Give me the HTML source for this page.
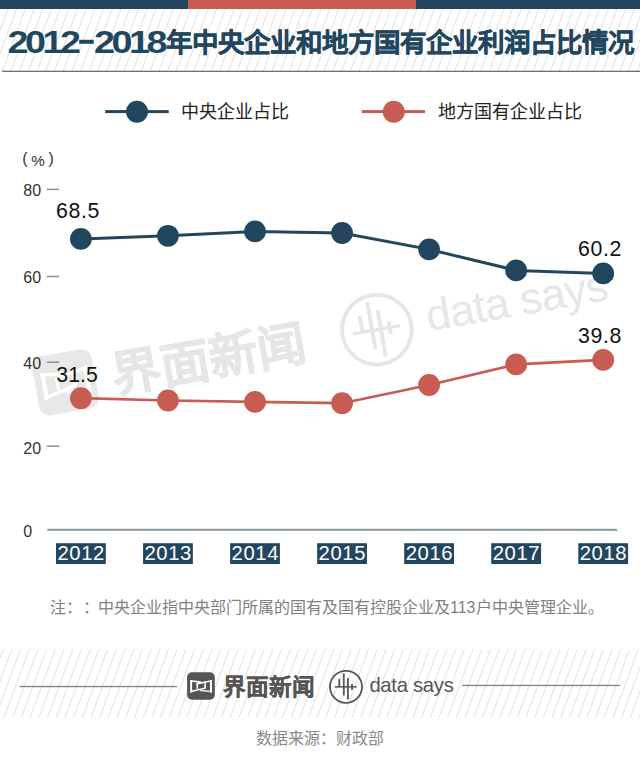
<!DOCTYPE html>
<html lang="zh-CN">
<head>
<meta charset="utf-8">
<style>
html,body{margin:0;padding:0;background:#fff;}
body{width:640px;height:774px;overflow:hidden;position:relative;font-family:"Liberation Sans",sans-serif;}
svg{position:absolute;left:0;top:0;font-family:"Liberation Sans",sans-serif;}
</style>
</head>
<body>
<svg width="640" height="774" viewBox="0 0 640 774">
<defs>
<pattern id="hatch" patternUnits="userSpaceOnUse" width="7.83" height="20" patternTransform="rotate(26.57)">
<rect x="0" y="0" width="0.9" height="20" fill="#dedede"/>
</pattern>
</defs>
<rect x="0" y="0" width="188" height="9" fill="#23465f"/>
<rect x="188" y="0" width="228" height="9" fill="#c85b52"/>
<rect x="416" y="0" width="224" height="9" fill="#23465f"/>
<path d="M-0.83 9L-23.77 71M7.87 9L-15.07 71M16.57 9L-6.37 71M25.27 9L2.33 71M33.97 9L11.03 71M42.67 9L19.73 71M51.37 9L28.43 71M60.07 9L37.13 71M68.77 9L45.83 71M77.47 9L54.53 71M86.17 9L63.23 71M94.87 9L71.93 71M103.57 9L80.63 71M112.27 9L89.33 71M120.97 9L98.03 71M129.67 9L106.73 71M138.37 9L115.43 71M147.07 9L124.13 71M155.77 9L132.83 71M164.47 9L141.53 71M173.17 9L150.23 71M181.87 9L158.93 71M190.57 9L167.63 71M199.27 9L176.33 71M207.97 9L185.03 71M216.67 9L193.73 71M225.37 9L202.43 71M234.07 9L211.13 71M242.77 9L219.83 71M251.47 9L228.53 71M260.17 9L237.23 71M268.87 9L245.93 71M277.57 9L254.63 71M286.27 9L263.33 71M294.97 9L272.03 71M303.67 9L280.73 71M312.37 9L289.43 71M321.07 9L298.13 71M329.77 9L306.83 71M338.47 9L315.53 71M347.17 9L324.23 71M355.87 9L332.93 71M364.57 9L341.63 71M373.27 9L350.33 71M381.97 9L359.03 71M390.67 9L367.73 71M399.37 9L376.43 71M408.07 9L385.13 71M416.77 9L393.83 71M425.47 9L402.53 71M434.17 9L411.23 71M442.87 9L419.93 71M451.57 9L428.63 71M460.27 9L437.33 71M468.97 9L446.03 71M477.67 9L454.73 71M486.37 9L463.43 71M495.07 9L472.13 71M503.77 9L480.83 71M512.47 9L489.53 71M521.17 9L498.23 71M529.87 9L506.93 71M538.57 9L515.63 71M547.27 9L524.33 71M555.97 9L533.03 71M564.67 9L541.73 71M573.37 9L550.43 71M582.07 9L559.13 71M590.77 9L567.83 71M599.47 9L576.53 71M608.17 9L585.23 71M616.87 9L593.93 71M625.57 9L602.63 71M634.27 9L611.33 71M642.97 9L620.03 71M651.67 9L628.73 71M660.37 9L637.43 71" stroke="#dcdcdc" stroke-width="0.9" fill="none"/>
<rect x="2" y="70.7" width="638" height="1.3" fill="#6e6e6e"/>
<text transform="translate(7.6,53) scale(1.2,1)" font-size="31.4" font-weight="bold" letter-spacing="-2.9" fill="#23465f">2012</text>
<rect x="79.2" y="39.8" width="14.5" height="4" fill="#23465f"/>
<text transform="translate(94,53) scale(1.2,1)" font-size="31.4" font-weight="bold" letter-spacing="-2.9" fill="#23465f">2018</text>
<text x="166" y="51.5" font-size="26.5" font-weight="bold" stroke="#23465f" stroke-width="0.45" fill="#23465f">年中央企业和地方国有企业利润占比情况</text>
<g transform="translate(65.6,382.3) rotate(-9.93) scale(2.177) translate(-201,-686)">
<rect x="187.1" y="672.2" width="27.7" height="27.6" rx="5" fill="#e8e8e8"/>
<g transform="translate(188,677)" fill="#ffffff"><rect x="2.2" y="3" width="1.9" height="12.4"/><rect x="22" y="3" width="2" height="12.4"/><rect x="8.5" y="6.1" width="1.5" height="5.7"/><rect x="16.3" y="6.1" width="1.6" height="5.4"/><path d="M2.2 3 L13 4.3 L13 5.9 L2.2 4.6Z"/><path d="M8.5 6.1 L24 3 L24 4.6 L8.5 7.7Z"/><path d="M2.2 13.8 L17.9 10.2 L17.9 11.8 L2.2 15.4Z"/><path d="M12 12.6 L24 13.8 L24 15.4 L12 14.2Z" opacity="0.8"/></g>
<text x="222.6" y="694.9" font-size="22.6" font-weight="bold" stroke="#e6e6e6" stroke-width="0.3" fill="#e6e6e6">界面新闻</text>
<circle cx="346" cy="686.8" r="16" fill="none" stroke="#e6e6e6" stroke-width="1.8"/>
<rect x="334.8" y="686.1" width="22" height="1.5" fill="#e6e6e6"/>
<rect x="338.40" y="679.1" width="1.8" height="7.60" fill="#e6e6e6"/>
<rect x="342.90" y="673.5" width="1.8" height="22.00" fill="#e6e6e6"/>
<rect x="347.00" y="678.1" width="1.8" height="21.30" fill="#e6e6e6"/>
<rect x="351.10" y="684" width="1.8" height="6.00" fill="#e6e6e6"/>
<text x="369.4" y="691.7" font-size="20.3" letter-spacing="-0.3" fill="#e6e6e6">data says</text>
</g>
<rect x="105.25" y="110.1" width="63.5" height="3" fill="#23465f"/>
<circle cx="137" cy="111.7" r="11" fill="#23465f"/>
<text x="181" y="117.5" font-size="18" fill="#222">中央企业占比</text>
<rect x="361.9" y="110.1" width="63.1" height="3" fill="#c85b52"/>
<circle cx="393.75" cy="111.7" r="11" fill="#c85b52"/>
<text x="437.5" y="117.5" font-size="18" fill="#222">地方国有企业占比</text>
<text x="22.2" y="164" font-size="16" fill="#333">(</text>
<text x="31.2" y="165.8" font-size="15.2" fill="#333">%</text>
<text x="48.4" y="164" font-size="16" fill="#333">)</text>
<text x="23.3" y="196" font-size="16" fill="#333">80</text>
<rect x="46.8" y="188.65" width="12.4" height="1.5" fill="#7d96a3"/>
<text x="23.3" y="283.2" font-size="16" fill="#333">60</text>
<rect x="46.8" y="275.75" width="12.4" height="1.5" fill="#7d96a3"/>
<text x="23.3" y="368.7" font-size="16" fill="#333">40</text>
<rect x="46.8" y="361.45" width="12.4" height="1.5" fill="#7d96a3"/>
<text x="23.3" y="454" font-size="16" fill="#333">20</text>
<rect x="46.8" y="445.45" width="12.4" height="1.5" fill="#7d96a3"/>
<text x="23.3" y="536.5" font-size="16" fill="#333">0</text>
<rect x="47.25" y="528.8" width="569.75" height="2" fill="#8c9a9d"/>
<polyline points="80.90,238.9 167.95,235.8 255.00,231.4 342.05,233.0 429.10,249.4 516.15,270.4 603.20,273.4" fill="none" stroke="#23465f" stroke-width="3"/>
<polyline points="80.90,398.2 167.95,400.5 255.00,401.9 342.05,403.2 429.10,385.0 516.15,364.4 603.20,359.9" fill="none" stroke="#c85b52" stroke-width="2.7"/>
<circle cx="80.90" cy="238.9" r="10.9" fill="#23465f"/>
<circle cx="167.95" cy="235.8" r="10.9" fill="#23465f"/>
<circle cx="255.00" cy="231.4" r="10.9" fill="#23465f"/>
<circle cx="342.05" cy="233.0" r="10.9" fill="#23465f"/>
<circle cx="429.10" cy="249.4" r="10.9" fill="#23465f"/>
<circle cx="516.15" cy="270.4" r="10.9" fill="#23465f"/>
<circle cx="603.20" cy="273.4" r="10.9" fill="#23465f"/>
<circle cx="80.90" cy="398.2" r="10.9" fill="#c85b52"/>
<circle cx="167.95" cy="400.5" r="10.9" fill="#c85b52"/>
<circle cx="255.00" cy="401.9" r="10.9" fill="#c85b52"/>
<circle cx="342.05" cy="403.2" r="10.9" fill="#c85b52"/>
<circle cx="429.10" cy="385.0" r="10.9" fill="#c85b52"/>
<circle cx="516.15" cy="364.4" r="10.9" fill="#c85b52"/>
<circle cx="603.20" cy="359.9" r="10.9" fill="#c85b52"/>
<text x="56.1" y="218" font-size="21.3" letter-spacing="0.6" fill="#111">68.5</text>
<text x="578.1" y="255.8" font-size="21.3" letter-spacing="0.6" fill="#111">60.2</text>
<text x="56.3" y="381.6" font-size="21.3" fill="#111">31.5</text>
<text x="578.1" y="343.4" font-size="21.3" letter-spacing="0.6" fill="#111">39.8</text>
<rect x="56.00" y="543.2" width="49.8" height="20.8" fill="#23465f"/>
<text x="81.20" y="560" font-size="20.3" letter-spacing="0.6" text-anchor="middle" fill="#fff">2012</text>
<rect x="143.05" y="543.2" width="49.8" height="20.8" fill="#23465f"/>
<text x="168.25" y="560" font-size="20.3" letter-spacing="0.6" text-anchor="middle" fill="#fff">2013</text>
<rect x="230.10" y="543.2" width="49.8" height="20.8" fill="#23465f"/>
<text x="255.30" y="560" font-size="20.3" letter-spacing="0.6" text-anchor="middle" fill="#fff">2014</text>
<rect x="317.15" y="543.2" width="49.8" height="20.8" fill="#23465f"/>
<text x="342.35" y="560" font-size="20.3" letter-spacing="0.6" text-anchor="middle" fill="#fff">2015</text>
<rect x="404.20" y="543.2" width="49.8" height="20.8" fill="#23465f"/>
<text x="429.40" y="560" font-size="20.3" letter-spacing="0.6" text-anchor="middle" fill="#fff">2016</text>
<rect x="491.25" y="543.2" width="49.8" height="20.8" fill="#23465f"/>
<text x="516.45" y="560" font-size="20.3" letter-spacing="0.6" text-anchor="middle" fill="#fff">2017</text>
<rect x="578.30" y="543.2" width="49.8" height="20.8" fill="#23465f"/>
<text x="603.50" y="560" font-size="20.3" letter-spacing="0.6" text-anchor="middle" fill="#fff">2018</text>
<text x="50" y="612.5" font-size="16" fill="#808080">注：</text>
<text x="82.5" y="612.5" font-size="16" fill="#808080">：</text>
<text x="98" y="612.5" font-size="16" fill="#808080">中央企业指中央部门所属的国有及国有控股企业及113户中央管理企业。</text>
<path d="M3.12 649.4L-22.11 717.6M11.82 649.4L-13.41 717.6M20.52 649.4L-4.71 717.6M29.22 649.4L3.99 717.6M37.92 649.4L12.69 717.6M46.62 649.4L21.39 717.6M55.32 649.4L30.09 717.6M64.02 649.4L38.79 717.6M72.72 649.4L47.49 717.6M81.42 649.4L56.19 717.6M90.12 649.4L64.89 717.6M98.82 649.4L73.59 717.6M107.52 649.4L82.29 717.6M116.22 649.4L90.99 717.6M124.92 649.4L99.69 717.6M133.62 649.4L108.39 717.6M142.32 649.4L117.09 717.6M151.02 649.4L125.79 717.6M159.72 649.4L134.49 717.6M168.42 649.4L143.19 717.6M177.12 649.4L151.89 717.6M185.82 649.4L160.59 717.6M194.52 649.4L169.29 717.6M203.22 649.4L177.99 717.6M211.92 649.4L186.69 717.6M220.62 649.4L195.39 717.6M229.32 649.4L204.09 717.6M238.02 649.4L212.79 717.6M246.72 649.4L221.49 717.6M255.42 649.4L230.19 717.6M264.12 649.4L238.89 717.6M272.82 649.4L247.59 717.6M281.52 649.4L256.29 717.6M290.22 649.4L264.99 717.6M298.92 649.4L273.69 717.6M307.62 649.4L282.39 717.6M316.32 649.4L291.09 717.6M325.02 649.4L299.79 717.6M333.72 649.4L308.49 717.6M342.42 649.4L317.19 717.6M351.12 649.4L325.89 717.6M359.82 649.4L334.59 717.6M368.52 649.4L343.29 717.6M377.22 649.4L351.99 717.6M385.92 649.4L360.69 717.6M394.62 649.4L369.39 717.6M403.32 649.4L378.09 717.6M412.02 649.4L386.79 717.6M420.72 649.4L395.49 717.6M429.42 649.4L404.19 717.6M438.12 649.4L412.89 717.6M446.82 649.4L421.59 717.6M455.52 649.4L430.29 717.6M464.22 649.4L438.99 717.6M472.92 649.4L447.69 717.6M481.62 649.4L456.39 717.6M490.32 649.4L465.09 717.6M499.02 649.4L473.79 717.6M507.72 649.4L482.49 717.6M516.42 649.4L491.19 717.6M525.12 649.4L499.89 717.6M533.82 649.4L508.59 717.6M542.52 649.4L517.29 717.6M551.22 649.4L525.99 717.6M559.92 649.4L534.69 717.6M568.62 649.4L543.39 717.6M577.32 649.4L552.09 717.6M586.02 649.4L560.79 717.6M594.72 649.4L569.49 717.6M603.42 649.4L578.19 717.6M612.12 649.4L586.89 717.6M620.82 649.4L595.59 717.6M629.52 649.4L604.29 717.6M638.22 649.4L612.99 717.6M646.92 649.4L621.69 717.6M655.62 649.4L630.39 717.6M664.32 649.4L639.09 717.6" stroke="#dcdcdc" stroke-width="0.9" fill="none"/>
<rect x="19.5" y="685.9" width="157.6" height="1.3" fill="#808080"/>
<rect x="462" y="684.8" width="158" height="1.3" fill="#808080"/>
<rect x="187.1" y="672.2" width="27.7" height="27.6" rx="5" fill="#555555"/>
<g transform="translate(188,677)" fill="#ffffff"><rect x="2.2" y="3" width="1.9" height="12.4"/><rect x="22" y="3" width="2" height="12.4"/><rect x="8.5" y="6.1" width="1.5" height="5.7"/><rect x="16.3" y="6.1" width="1.6" height="5.4"/><path d="M2.2 3 L13 4.3 L13 5.9 L2.2 4.6Z"/><path d="M8.5 6.1 L24 3 L24 4.6 L8.5 7.7Z"/><path d="M2.2 13.8 L17.9 10.2 L17.9 11.8 L2.2 15.4Z"/><path d="M12 12.6 L24 13.8 L24 15.4 L12 14.2Z" opacity="0.8"/></g>
<text x="222.6" y="694.9" font-size="22.6" font-weight="bold" stroke="#555555" stroke-width="0.2" fill="#555555">界面新闻</text>
<circle cx="346" cy="686.8" r="16" fill="none" stroke="#555555" stroke-width="1.8"/>
<rect x="334.8" y="686.1" width="22" height="1.5" fill="#555555"/>
<rect x="338.40" y="679.1" width="1.8" height="7.60" fill="#555555"/>
<rect x="342.90" y="673.5" width="1.8" height="22.00" fill="#555555"/>
<rect x="347.00" y="678.1" width="1.8" height="21.30" fill="#555555"/>
<rect x="351.10" y="684" width="1.8" height="6.00" fill="#555555"/>
<text x="369.4" y="691.7" font-size="20.3" letter-spacing="-0.3" fill="#555555">data says</text>
<text x="256" y="744" font-size="16" fill="#888">数据来源：财政部</text>
</svg>
</body>
</html>
